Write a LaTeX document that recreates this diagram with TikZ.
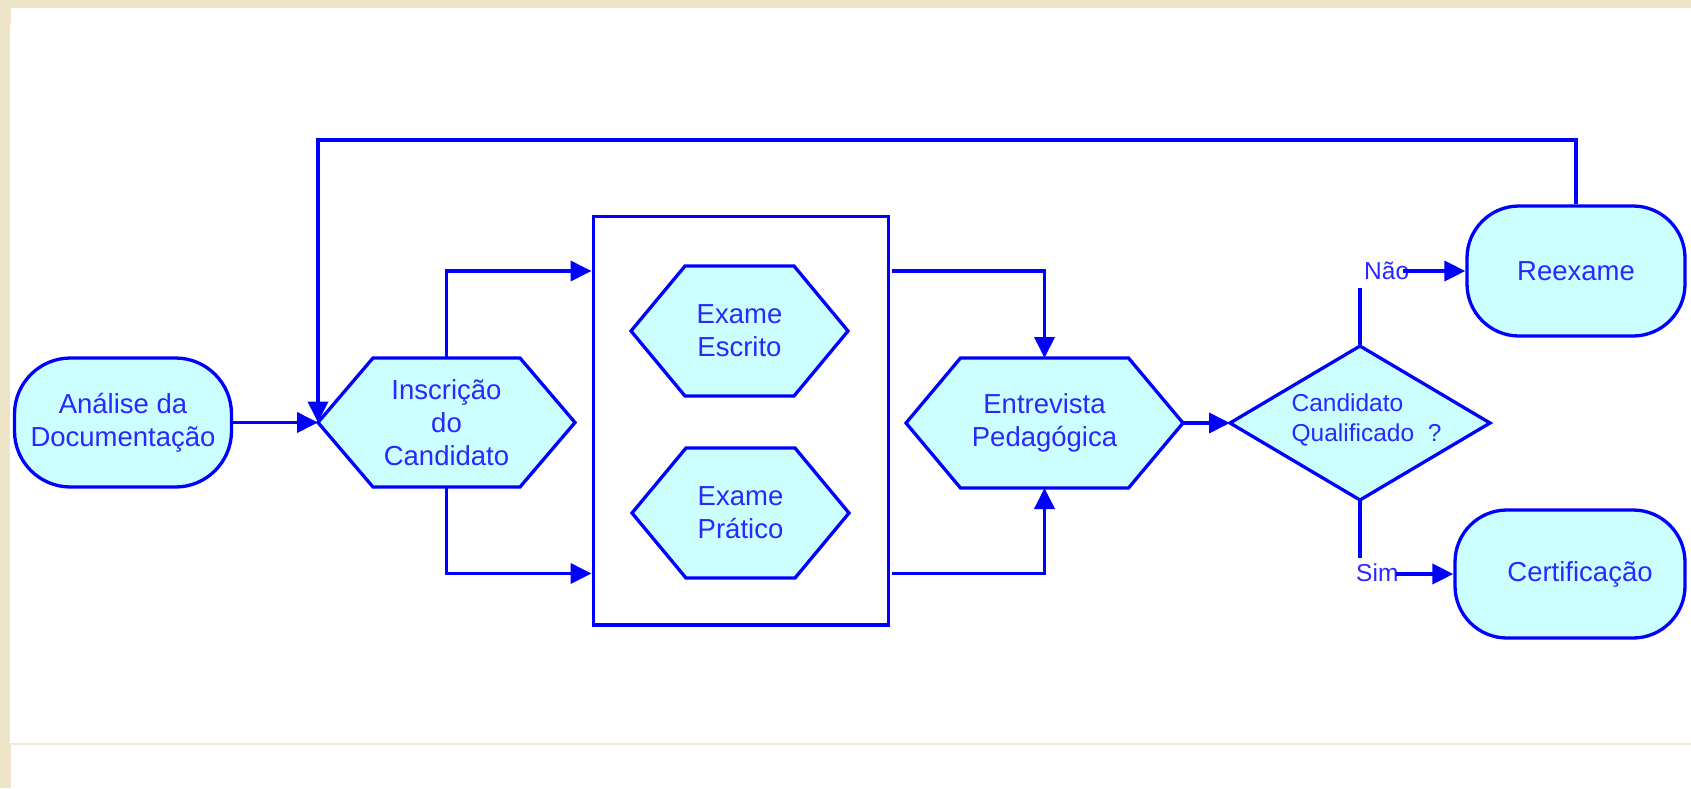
\documentclass[tikz,border=0pt]{standalone}
\usepackage{fontspec}
\setmainfont{Liberation Sans}
\usetikzlibrary{arrows.meta}
\pgfdeclarelayer{back}
\pgfdeclarelayer{bg}
\pgfsetlayers{back,bg,main}
\definecolor{lineblue}{RGB}{0,0,255}
\definecolor{textblue}{RGB}{40,40,255}
\definecolor{cyanfill}{RGB}{204,255,255}
\definecolor{beige}{RGB}{238,228,200}
\definecolor{beigeline}{RGB}{243,231,206}
\tikzset{
  txt/.style={text=textblue, font=\fontsize{27.5}{33}\selectfont, align=center, inner sep=0pt},
  holder/.style={txt, outer sep=0pt, draw=none},
  term/.style={txt, draw=lineblue, line width=3.3pt, fill=cyanfill, rounded corners=52pt},
  border/.style={draw=lineblue, line width=3.3pt, fill=cyanfill, line join=miter},
  conn/.style={draw=lineblue, line width=3.8pt, -{Triangle[length=21pt,width=20pt]}},
  plain/.style={draw=lineblue, line width=3.8pt},
  lbl/.style={text=textblue, font=\fontsize{24.5}{28}\selectfont, inner sep=0pt}
}
\newcommand\drawhexagon[2]{%
  \begin{pgfonlayer}{bg}
  \path[border] (#1.west) -- ([xshift=#2]#1.north west) -- ([xshift=-#2]#1.north east)
    -- (#1.east) -- ([xshift=-#2]#1.south east) -- ([xshift=#2]#1.south west) -- cycle;
  \end{pgfonlayer}}
\begin{document}
\begin{tikzpicture}[x=1pt,y=-1pt]
\useasboundingbox (0,0) rectangle (1691,788);
% page background
\begin{pgfonlayer}{back}
\fill[beige] (0,0) rectangle (1691,788);
\fill[white] (10,8) rectangle (1691,788);
\fill[beige] (10,8) rectangle (11,24);
\fill[beige] (10,744) rectangle (11,788);
\fill[beigeline] (10,743.3) rectangle (1691,744.8);
\end{pgfonlayer}

% nodes
\node[term, minimum width=217pt, minimum height=129pt, rounded corners=56pt] (anal) at (123,422.5) {Análise da\\Documentação};

\node[holder, minimum width=257pt, minimum height=129pt] (insc) at (446.5,422.5) {Inscrição\\do\\Candidato};
\drawhexagon{insc}{55pt}

\node[draw=lineblue, line width=3.3pt, minimum width=295.5pt, minimum height=408.3pt, inner sep=0pt] (box) at (740.9,420.9) {};

\node[holder, minimum width=217pt, minimum height=130pt] (esc) at (739.5,331) {Exame\\Escrito};
\drawhexagon{esc}{54pt}

\node[holder, minimum width=217pt, minimum height=130pt] (prat) at (740.5,513) {Exame\\Prático};
\drawhexagon{prat}{54pt}

\node[holder, minimum width=277pt, minimum height=130pt] (entr) at (1044.5,423) {Entrevista\\Pedagógica};
\drawhexagon{entr}{54.5pt}

\node[holder, minimum width=260pt, minimum height=154pt] (dq) at (1360,423) {};
\begin{pgfonlayer}{bg}
\path[border] (dq.west) -- (dq.north) -- (dq.east) -- (dq.south) -- cycle;
\end{pgfonlayer}
\node[lbl, align=left, font=\fontsize{24.5}{30}\selectfont] (dqtxt) at (1366.5,420) {Candidato\\Qualificado~~?};

\node[term, minimum width=218pt, minimum height=130pt] (reex) at (1576,271) {Reexame};
\node[term, minimum width=230pt, minimum height=128pt] (cert) at (1570,574) {\hspace*{20pt}Certificação};

\node[lbl, anchor=base west] (nao) at (1364,279.3) {Não};
\node[lbl, anchor=base west] (sim) at (1356,581.7) {Sim};

% helper levels
\coordinate (looptop) at (0,139.7);
\coordinate (ytop) at (0,271);
\coordinate (ybot) at (0,573.5);
\coordinate (naoend) at (0,287.7);
\coordinate (simend) at (0,558);
\coordinate (boxr) at ([xshift=2pt]box.east);

% connectors
\draw[conn] (anal.east) -- (insc.west);
\draw[conn] (reex.north) |- (insc.west |- looptop) -- (insc.west);
\draw[conn] (insc.north) |- (box.west |- ytop);
\draw[conn] (insc.south) |- (box.west |- ybot);
\draw[conn] (boxr |- ytop) -| (entr.north);
\draw[conn] (boxr |- ybot) -| (entr.south);
\draw[conn] (entr.east) -- (dq.west);
\draw[plain] (dq.north) -- (dq.north |- naoend);
\path (nao.east |- reex.west) coordinate (naoA);
\draw[conn] ([xshift=-6pt]naoA) -- (reex.west);
\draw[plain] (dq.south) -- (dq.south |- simend);
\path (sim.east |- cert.west) coordinate (simA);
\draw[conn] ([xshift=-3pt]simA) -- (cert.west);
\end{tikzpicture}
\end{document}
